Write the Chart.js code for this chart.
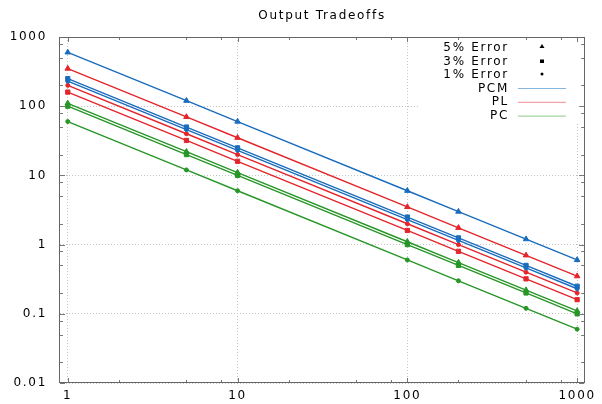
<!DOCTYPE html>
<html>
<head>
<meta charset="utf-8">
<script src="https://cdn.jsdelivr.net/npm/chart.js@4/dist/chart.umd.min.js"></script>
<style>
  html, body { margin: 0; padding: 0; background: #fff; }
  #wrap { width: 602px; height: 404px; }
</style>
</head>
<body>
<div id="wrap"><canvas id="tradeoffChart" width="602" height="404"></canvas></div>
<script>
// data
const xValues = [1, 5, 10, 100, 200, 500, 1000];
const pcm5 = [600, 120, 60, 6, 3, 1.2, 0.6];
const pcm3 = [250, 50, 25, 2.5, 1.25, 0.5, 0.25];
const pcm1 = [230, 46, 23, 2.3, 1.15, 0.46, 0.23];
const pl5 = [350, 70, 35, 3.5, 1.75, 0.7, 0.35];
const pl3 = [160, 32, 16, 1.6, 0.8, 0.32, 0.16];
const pl1 = [200, 40, 20, 2, 1, 0.4, 0.2];
const pc5 = [110, 22, 11, 1.1, 0.55, 0.22, 0.11];
const pc3 = [100, 20, 10, 1, 0.5, 0.2, 0.1];
const pc1 = [60, 12, 6, 0.6, 0.3, 0.12, 0.06];

const xTicks = [1, 10, 100, 1000];
const yTicks = [0.01, 0.1, 1, 10, 100, 1000];
const minorSteps = [2, 5, 8];

const errorLabels = ['5% Error', '3% Error', '1% Error'];
const modelLabels = ['PCM', 'PL', 'PC'];
const chartTitle = 'Output Tradeoffs';

const BLUE = '#1a6cbd';
const RED = '#e4262c';
const GREEN = '#279627';
const FONT = '"DejaVu Sans", sans-serif';
const SPACING = '1.7px';

function toPoints(ys) {
  return ys.map((y, i) => ({ x: xValues[i], y: y }));
}

function makeSet(label, ys, color, style) {
  const r = style === 'triangle' ? 3.2 : (style === 'rect' ? 3 : 2);
  return {
    label: label,
    data: toPoints(ys),
    borderColor: color,
    backgroundColor: color,
    borderWidth: 1.4,
    pointStyle: style,
    pointRadius: r,
    pointBorderWidth: 1,
    pointHoverRadius: r,
    tension: 0
  };
}

const datasets = [
  makeSet('PCM 5%', pcm5, BLUE, 'triangle'),
  makeSet('PCM 3%', pcm3, BLUE, 'rect'),
  makeSet('PCM 1%', pcm1, BLUE, 'circle'),
  makeSet('PL 5%', pl5, RED, 'triangle'),
  makeSet('PL 3%', pl3, RED, 'rect'),
  makeSet('PL 1%', pl1, RED, 'circle'),
  makeSet('PC 5%', pc5, GREEN, 'triangle'),
  makeSet('PC 3%', pc3, GREEN, 'rect'),
  makeSet('PC 1%', pc1, GREEN, 'circle')
];

// letter spacing like the original renderer
const spacingPlugin = {
  id: 'spacing',
  beforeUpdate(chart) { chart.ctx.letterSpacing = SPACING; },
  beforeDraw(chart) { chart.ctx.letterSpacing = SPACING; }
};

// box, inward ticks, title and key
const framePlugin = {
  id: 'frame',
  afterDatasetsDraw(chart) {
    const ctx = chart.ctx;
    const a = chart.chartArea;
    const xs = chart.scales.x;
    const ys = chart.scales.y;
    ctx.save();

    // key background hides the grid behind it
    ctx.fillStyle = '#fff';
    ctx.fillRect(420, a.top + 1, a.right - 421, 86);

    // inward tick marks on all four sides
    ctx.strokeStyle = '#777';
    ctx.lineWidth = 1;
    ctx.beginPath();
    function xTick(v, len) {
      const px = Math.round(xs.getPixelForValue(v)) + 0.5;
      ctx.moveTo(px, a.bottom); ctx.lineTo(px, a.bottom - len);
      ctx.moveTo(px, a.top); ctx.lineTo(px, a.top + len);
    }
    function yTick(v, len) {
      const py = Math.round(ys.getPixelForValue(v)) + 0.5;
      ctx.moveTo(a.left, py); ctx.lineTo(a.left + len, py);
      ctx.moveTo(a.right, py); ctx.lineTo(a.right - len, py);
    }
    xTicks.forEach(v => {
      xTick(v, 5);
      minorSteps.forEach(m => { if (v * m < 1100) xTick(v * m, 3); });
    });
    yTicks.forEach(v => {
      yTick(v, 5);
      minorSteps.forEach(m => { if (v * m < 1000) yTick(v * m, 3); });
    });
    ctx.stroke();

    // frame
    ctx.strokeStyle = '#666';
    ctx.strokeRect(Math.round(a.left) - 0.5, Math.round(a.top) + 0.5,
      Math.round(a.right - a.left) + 1, Math.round(a.bottom - a.top) - 1);

    // title
    ctx.letterSpacing = SPACING;
    ctx.fillStyle = '#000';
    ctx.font = '12px ' + FONT;
    ctx.textAlign = 'center';
    ctx.textBaseline = 'alphabetic';
    ctx.fillText(chartTitle, (a.left + a.right) / 2, 19);

    // key text
    ctx.textAlign = 'right';
    const rows = errorLabels.concat(modelLabels);
    rows.forEach((t, i) => {
      ctx.fillText(t, 509, 51 + i * 13.6);
    });

    // key symbols
    ctx.fillStyle = '#000';
    ctx.beginPath();
    ctx.moveTo(542, 44); ctx.lineTo(544.5, 48); ctx.lineTo(539.5, 48); ctx.closePath();
    ctx.fill();
    ctx.fillRect(540, 59.5, 4, 3.5);
    ctx.beginPath();
    ctx.arc(542, 74, 1.5, 0, Math.PI * 2);
    ctx.fill();

    const keyColors = ['#86b6de', '#ef8e90', '#8ccb8c'];
    keyColors.forEach((c, i) => {
      const y = 88.5 + i * 13.8;
      ctx.strokeStyle = c;
      ctx.lineWidth = 1;
      ctx.beginPath();
      ctx.moveTo(518, y); ctx.lineTo(566, y);
      ctx.stroke();
    });

    ctx.restore();
  }
};

const ctx = document.getElementById('tradeoffChart');

new Chart(ctx, {
  type: 'line',
  data: { datasets: datasets },
  plugins: [spacingPlugin, framePlugin],
  options: {
    responsive: false,
    animation: false,
    events: [],
    layout: { padding: { left: 0, top: 37, right: 15, bottom: 0 } },
    plugins: {
      legend: { display: false },
      title: { display: false },
      tooltip: { enabled: false }
    },
    scales: {
      x: {
        type: 'logarithmic',
        min: 0.9,
        max: 1100,
        afterBuildTicks: (scale) => { scale.ticks = xTicks.map(v => ({ value: v })); },
        afterFit: (scale) => { scale.height = 21; },
        ticks: {
          color: '#000',
          font: { family: FONT, size: 12 },
          padding: 6,
          maxRotation: 0,
          autoSkip: false,
          callback: (v) => String(v)
        },
        grid: { color: '#c4c4c4', drawTicks: false, lineWidth: 1 },
        border: { display: false, dash: [1, 2] }
      },
      y: {
        type: 'logarithmic',
        min: 0.01,
        max: 1000,
        afterBuildTicks: (scale) => { scale.ticks = yTicks.map(v => ({ value: v })); },
        afterFit: (scale) => { scale.width = 60; },
        ticks: {
          color: '#000',
          font: { family: FONT, size: 12 },
          padding: 13,
          autoSkip: false,
          callback: (v) => String(v)
        },
        grid: { color: '#c4c4c4', drawTicks: false, lineWidth: 1 },
        border: { display: false, dash: [1, 2] }
      }
    }
  }
});
</script>
</body>
</html>
